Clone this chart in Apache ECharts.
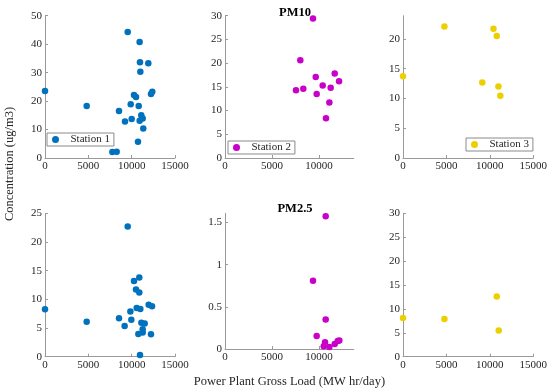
<!DOCTYPE html>
<html><head><meta charset="utf-8">
<script src="https://cdn.jsdelivr.net/npm/echarts@6/dist/echarts.min.js"></script>
<style>html,body{margin:0;padding:0;background:#fff}#c{width:550px;height:389px}</style>
</head><body><div id="c"></div>
<script>
// ---- data ----
const seriesNames = ['Station 1', 'Station 2', 'Station 3'];
const panelTitles = ['PM10', 'PM2.5'];
const yAxisLabel = 'Concentration (ug/m3)';
const xAxisLabel = 'Power Plant Gross Load (MW hr/day)';

const st1Pm10X = [0, 4810, 7770, 8270, 8540, 9230, 9540, 9890, 10000, 10270, 10500, 10730, 10810, 10920, 10920, 10960, 11000, 11110, 11270, 11340, 11920, 12230, 12380];
const st1Pm10Y = [23.5, 18.3, 2.1, 2.2, 16.5, 12.8, 44.3, 18.9, 13.7, 22.1, 21.4, 5.7, 18.3, 40.8, 13.1, 33.6, 30.3, 15.0, 13.9, 10.4, 33.3, 22.5, 23.3];

const st1Pm25X = [0, 4810, 8540, 9190, 9540, 9850, 9960, 10270, 10500, 10580, 10770, 10880, 10880, 10960, 11000, 11120, 11270, 11270, 11500, 11960, 12230, 12350];
const st1Pm25Y = [8.26, 6.1, 6.7, 5.35, 22.7, 7.9, 6.45, 13.2, 11.7, 8.5, 3.95, 13.8, 11.2, 0.3, 8.3, 5.9, 4.8, 4.2, 5.8, 9.07, 3.9, 8.8];

const st2Pm10X = [7550, 8010, 8330, 9360, 9650, 9750, 10390, 10740, 11100, 11240, 11670, 12130];
const st2Pm10Y = [14.3, 20.6, 14.6, 29.4, 17.1, 13.5, 15.3, 8.4, 11.7, 14.8, 17.8, 16.2];

const st2Pm25X = [9360, 9750, 10500, 10640, 10710, 10710, 11100, 11670, 11990, 12160];
const st2Pm25Y = [0.81, 0.154, 0.034, 0.079, 1.575, 0.349, 0.023, 0.06, 0.094, 0.1];

const st3Pm10X = [0, 4770, 9130, 10420, 10800, 10990, 11210];
const st3Pm10Y = [13.75, 22.1, 12.7, 21.7, 20.5, 12.0, 10.45];

const st3Pm25X = [0, 4770, 10800, 11020];
const st3Pm25Y = [8.1, 7.9, 12.6, 5.5];

// axis ticks / limits per panel
const xTicksWide = [0, 5000, 10000, 15000];
const xTicksMid = [0, 5000, 10000];
const xMaxMid = 13700;
const yTicksP1 = [0, 10, 20, 30, 40, 50];
const yTicksP2 = [0, 5, 10, 15, 20, 25, 30];
const yTicksP3 = [0, 5, 10, 15, 20];
const yMaxP3 = 23.9;
const yTicksP4 = [0, 5, 10, 15, 20, 25];
const yTicksP5 = [0, 0.5, 1, 1.5];
const yMaxP5 = 1.61;
const yTicksP6 = [0, 5, 10, 15, 20, 25, 30];

// ---- styles ----
const colors = ['#0072BD', '#C800C8', '#EDCF00'];
const FONT = '"Liberation Serif", "Times New Roman", serif';
const TXT = '#262626';
const AX = '#9a9a9a';

function pairs(xs, ys) { return xs.map((x, i) => [x, ys[i]]); }

const grids = [
  {left: 45, top: 15.7, width: 130, height: 142.3},
  {left: 225, top: 15.7, width: 128.8, height: 142.3},
  {left: 403, top: 15.7, width: 132, height: 142.3},
  {left: 45, top: 213.3, width: 130, height: 143.4},
  {left: 225, top: 213.3, width: 128.8, height: 143.4},
  {left: 403, top: 213.3, width: 132, height: 143.4}
];

function axisCommon() {
  return {
    splitLine: {show: false},
    axisLine: {show: true, onZero: false, lineStyle: {color: AX, width: 1}},
    axisTick: {show: true, inside: true, length: 3, lineStyle: {color: AX}},
    axisLabel: {color: TXT, fontFamily: FONT, fontSize: 11, margin: 3,
      formatter: function (v) { return String(v); }}
  };
}
function xAx(gi, ticks, max, extra) {
  const a = Object.assign(axisCommon(), {type: 'value', gridIndex: gi, min: ticks[0], max: max, interval: ticks[1] - ticks[0]});
  if (max !== ticks[ticks.length - 1]) a.axisLabel.showMaxLabel = false;
  return Object.assign(a, extra || {});
}
function yAx(gi, ticks, max) {
  const a = Object.assign(axisCommon(), {type: 'value', gridIndex: gi, min: ticks[0], max: max, interval: ticks[1] - ticks[0]});
  if (max !== ticks[ticks.length - 1]) a.axisLabel.showMaxLabel = false;
  return a;
}

const xAxes = [
  xAx(0, xTicksWide, 15000),
  xAx(1, xTicksMid, xMaxMid),
  xAx(2, xTicksWide, 15000),
  xAx(3, xTicksWide, 15000),
  xAx(4, xTicksMid, xMaxMid, {name: xAxisLabel, nameLocation: 'middle', nameGap: 26,
     nameTextStyle: {color: TXT, fontFamily: FONT, fontSize: 12.5}}),
  xAx(5, xTicksWide, 15000)
];
const yAxes = [
  yAx(0, yTicksP1, 50),
  yAx(1, yTicksP2, 30),
  yAx(2, yTicksP3, yMaxP3),
  yAx(3, yTicksP4, 25),
  yAx(4, yTicksP5, yMaxP5),
  yAx(5, yTicksP6, 30)
];

function sc(name, idx, data, color) {
  return {type: 'scatter', name: name, xAxisIndex: idx, yAxisIndex: idx, data: data,
    symbol: 'circle', symbolSize: 6.5, clip: false, itemStyle: {color: color, opacity: 1},
    emphasis: {disabled: true}, animation: false};
}

const series = [
  sc(seriesNames[0], 0, pairs(st1Pm10X, st1Pm10Y), colors[0]),
  sc(seriesNames[1], 1, pairs(st2Pm10X, st2Pm10Y), colors[1]),
  sc(seriesNames[2], 2, pairs(st3Pm10X, st3Pm10Y), colors[2]),
  sc(seriesNames[0], 3, pairs(st1Pm25X, st1Pm25Y), colors[0]),
  sc(seriesNames[1], 4, pairs(st2Pm25X, st2Pm25Y), colors[1]),
  sc(seriesNames[2], 5, pairs(st3Pm25X, st3Pm25Y), colors[2])
];

function leg(name, left, top) {
  return {data: [name], left: left, top: top, orient: 'horizontal',
    backgroundColor: '#fff', borderColor: '#8a8a8a', borderWidth: 1, borderRadius: 0,
    padding: [1, 4, 1, 5], icon: 'circle', itemWidth: 20, itemHeight: 7,
    selectedMode: false,
    textStyle: {color: TXT, fontFamily: FONT, fontSize: 11}};
}

const chart = echarts.init(document.getElementById('c'), null, {renderer: 'canvas'});
chart.setOption({
  backgroundColor: '#fff',
  animation: false,
  title: [
    {text: panelTitles[0], left: 290, top: 1, textAlign: 'center',
     textStyle: {color: '#000', fontFamily: FONT, fontSize: 12.5, fontWeight: 'bold'}},
    {text: panelTitles[1], left: 290, top: 197, textAlign: 'center',
     textStyle: {color: '#000', fontFamily: FONT, fontSize: 12.5, fontWeight: 'bold'}}
  ],
  legend: [
    leg(seriesNames[0], 47, 133),
    leg(seriesNames[1], 228, 141),
    leg(seriesNames[2], 466, 138)
  ],
  grid: grids,
  xAxis: xAxes,
  yAxis: yAxes,
  series: series,
  graphic: [{
    type: 'text', x: 10, y: 164, rotation: Math.PI / 2,
    style: {text: yAxisLabel, fill: TXT, font: '12.5px ' + FONT, textAlign: 'center', textVerticalAlign: 'middle'}
  }]
});
</script></body></html>
